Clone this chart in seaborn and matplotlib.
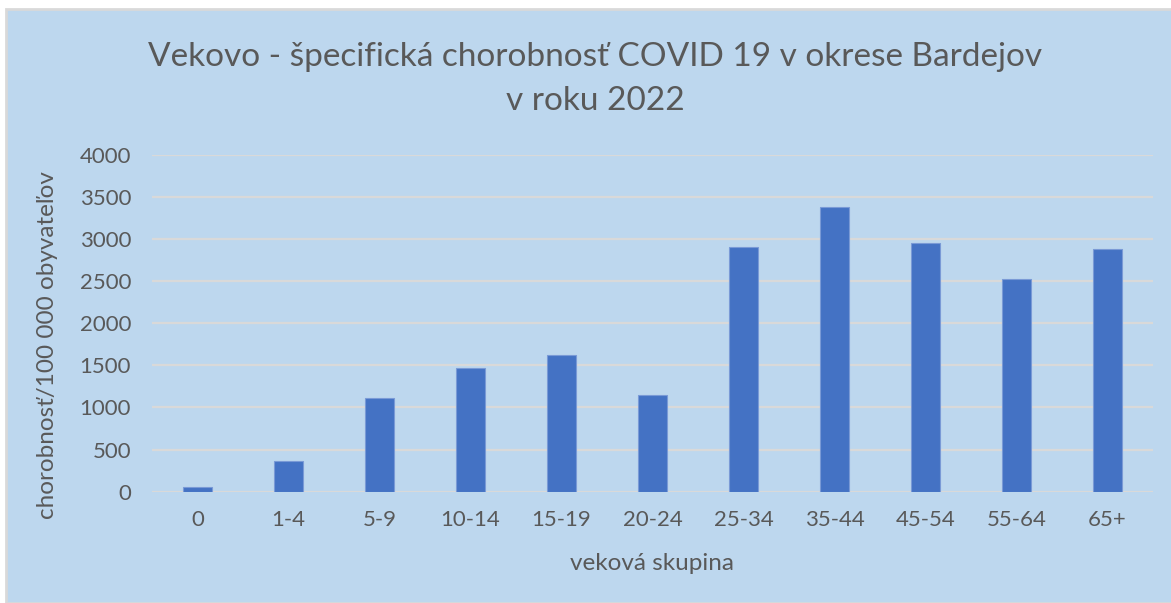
import pandas as pd
import seaborn as sns
import matplotlib.pyplot as plt
from matplotlib.patches import Rectangle

# hodnoty odčítané z grafu
vekove_skupiny = ["0", "1-4", "5-9", "10-14", "15-19", "20-24",
                  "25-34", "35-44", "45-54", "55-64", "65+"]
chorobnost = [52, 362, 1112, 1467, 1617, 1145, 2905, 3380, 2950, 2528, 2876]
y_ticks = [0, 500, 1000, 1500, 2000, 2500, 3000, 3500, 4000]

dataset = pd.DataFrame({"skupina": vekove_skupiny, "chorobnost": chorobnost})

sns.set_style("white")
plt.rcParams["font.family"] = ["Lato", "DejaVu Sans"]

W, H = 1171, 603
fig = plt.figure(figsize=(W / 100, H / 100), dpi=100, facecolor="white")

# pozadie grafu s rámikom
bg = Rectangle((6 / W, 0), 1 - 6 / W + 0.01, 1 - 9 / H, transform=fig.transFigure,
               facecolor="#BDD7EE", edgecolor="#D9D9D9", linewidth=2, zorder=-5)
fig.patches.append(bg)

ax = fig.add_axes([152 / W, 1 - 491.7 / H, (1153 - 152) / W, (491.7 - 154.7) / H])
ax.set_facecolor("none")
ax.set_zorder(2)

sns.barplot(data=dataset, x="skupina", y="chorobnost", color="#4472C4",
            saturation=1, width=0.31, edgecolor="#7A9AD6", linewidth=0.8,
            ax=ax, zorder=3)

ax.set_xlim(-0.5, len(vekove_skupiny) - 0.5)
ax.set_ylim(0, 4000)
ax.set_yticks(y_ticks)
ax.yaxis.grid(True, color="#D9D9D9", linewidth=1.6, zorder=0)
ax.set_axisbelow(True)
for s in ax.spines.values():
    s.set_visible(False)
ax.tick_params(axis="both", length=0, labelsize=16, labelcolor="#595959")
ax.tick_params(axis="x", pad=13)
ax.tick_params(axis="y", pad=15)

ax.set_xlabel("veková skupina", fontsize=17.5, color="#595959", labelpad=17)
ax.set_ylabel("chorobnosť/100 000 obyvateľov", fontsize=17.5, color="#595959")
ax.yaxis.set_label_coords(-0.094, 0.435)

fig.text(595 / W, 1 - 79 / H, "Vekovo - špecifická chorobnosť COVID 19 v okrese Bardejov\nv roku 2022",
         ha="center", va="center", fontsize=24, color="#595959", linespacing=1.55)

fig.savefig("out.png", dpi=100, facecolor="white")
